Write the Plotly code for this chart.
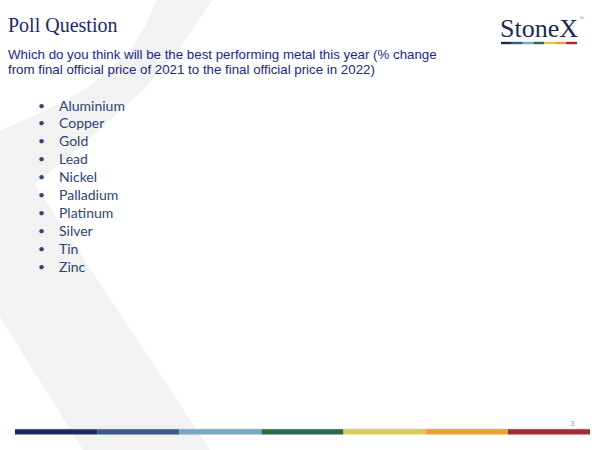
import plotly.graph_objects as go

# ---- content ----
title_text = "Poll Question"
question_lines = [
    "Which do you think will be the best performing metal this year (% change",
    "from final official price of 2021 to the final official price in 2022)",
]
metals = ["Aluminium", "Copper", "Gold", "Lead", "Nickel",
          "Palladium", "Platinum", "Silver", "Tin", "Zinc"]
page_number = "3"
brand = "StoneX"
stripe_colors = ["#1f2a5c", "#395b86", "#78a6c6", "#2a6a4b",
                 "#d9cd55", "#e9a12f", "#a52a35"]

W, H = 600, 450
NAVY = "#1b2a66"
BULLET_COL = "#2b4675"

fig = go.Figure()
fig.add_trace(go.Scatter(x=[0, W], y=[0, H], mode="markers",
                         marker=dict(opacity=0), hoverinfo="skip",
                         showlegend=False))

shapes = []
# background "X" watermark
shapes.append(dict(type="path", xref="x", yref="y", layer="below",
                   path="M 0 132 L 210 450 L 83 450 L 0 317 Z",
                   fillcolor="#f2f2f2", line=dict(width=0)))
shapes.append(dict(type="path", xref="x", yref="y", layer="below",
                   path=("M 157 0 L 213 0 L 196 24 L 178 50 L 143 90 "
                         "L 90 138 L 33 186 L 0 132 L 0 131 L 40 113 "
                         "L 85 90 L 112 68 L 130 50 L 145 26 Z"),
                   fillcolor="#f2f2f2", line=dict(width=0)))

# bottom colour bar
x0, x1 = 15, 590
seg = (x1 - x0) / len(stripe_colors)
for i, c in enumerate(stripe_colors):
    shapes.append(dict(type="rect", xref="x", yref="y",
                       x0=x0 + i * seg, x1=x0 + (i + 1) * seg,
                       y0=429, y1=434.5, fillcolor=c, line=dict(width=0)))
shapes.append(dict(type="rect", xref="x", yref="y", x0=x0, x1=x1,
                   y0=428.6, y1=429.4, fillcolor="#c8ccd4",
                   line=dict(width=0), opacity=0.6))

# logo stripe
lx0, lx1 = 501, 577
lseg = (lx1 - lx0) / len(stripe_colors)
for i, c in enumerate(stripe_colors):
    shapes.append(dict(type="rect", xref="x", yref="y",
                       x0=lx0 + i * lseg, x1=lx0 + (i + 1) * lseg,
                       y0=41.8, y1=44.2, fillcolor=c, line=dict(width=0)))

ann = []
ann.append(dict(x=6, y=25, text=title_text, xanchor="left", yanchor="middle",
                showarrow=False,
                font=dict(family="Liberation Serif", size=20, color=NAVY)))
for i, line in enumerate(question_lines):
    ann.append(dict(x=6, y=54.5 + 15 * i, text=line, xanchor="left",
                    yanchor="middle", showarrow=False,
                    font=dict(family="Liberation Sans", size=13.3,
                              color="#1a2880")))
for i, m in enumerate(metals):
    yc = 105 + 17.9 * i
    ann.append(dict(x=41, y=yc, text="•", xanchor="center", yanchor="middle",
                    showarrow=False,
                    font=dict(family="Lato", size=12, color=BULLET_COL)))
    ann.append(dict(x=57, y=yc, text=m, xanchor="left", yanchor="middle",
                    showarrow=False,
                    font=dict(family="Lato", size=14, color=BULLET_COL)))
ann.append(dict(x=539, y=28, text=brand, xanchor="center", yanchor="middle",
                showarrow=False,
                font=dict(family="Liberation Serif", size=26, color="#1b2a55")))
ann.append(dict(x=581, y=18, text="™", xanchor="center", yanchor="middle",
                showarrow=False,
                font=dict(family="Liberation Sans", size=5, color="#8a90a0")))
ann.append(dict(x=572, y=423, text=page_number, xanchor="center",
                yanchor="middle", showarrow=False,
                font=dict(family="Liberation Sans", size=8, color="#9aa6b2")))

fig.update_layout(
    width=W, height=H, margin=dict(l=0, r=0, t=0, b=0),
    paper_bgcolor="white", plot_bgcolor="white",
    xaxis=dict(range=[0, W], visible=False, fixedrange=True),
    yaxis=dict(range=[H, 0], visible=False, fixedrange=True),
    shapes=shapes, annotations=ann, showlegend=False,
)
fig.write_html("out.html", config={"displayModeBar": False},
               post_script="document.body.style.margin='0';"
                           "document.body.style.overflow='hidden';")
